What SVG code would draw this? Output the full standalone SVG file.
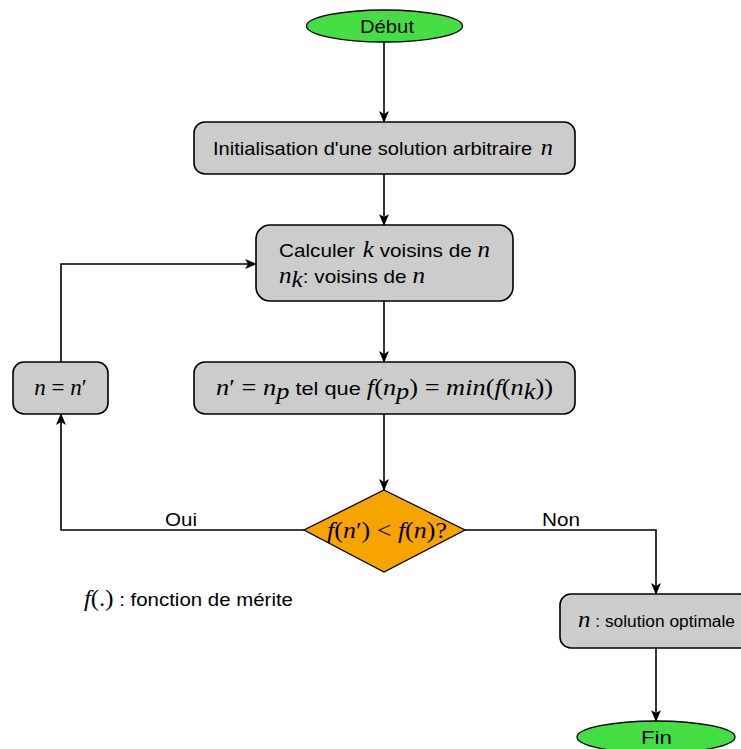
<svg xmlns="http://www.w3.org/2000/svg" width="741" height="749" viewBox="0 0 741 749">
<style>
.box{fill:#cccccc;stroke:#000;stroke-width:1.6}
.term{fill:#44dd44;stroke:#000;stroke-width:1.3}
.dec{fill:#f7a400;stroke:#000;stroke-width:1.3}
.t{font-family:"Liberation Sans",Arial,sans-serif;font-size:19px;fill:#000}
.m{font-family:"Liberation Serif","Times New Roman",serif;font-style:italic;font-size:23px;fill:#000}
.mr{font-family:"Liberation Serif","Times New Roman",serif;font-style:normal;font-size:23px;fill:#000}
.edge{fill:none;stroke:#000;stroke-width:1.6}
</style>
<defs>
<marker id="arr" viewBox="0 0 12 10" refX="11" refY="5" markerWidth="12" markerHeight="10" markerUnits="userSpaceOnUse" orient="auto">
<path d="M0,0 L12,5 L0,10 L3,5 Z" fill="#000"/>
</marker>
</defs>
<g id="connectors">
<path class="edge" d="M384,42 L384,122" marker-end="url(#arr)"/>
<path class="edge" d="M384,174 L384,225" marker-end="url(#arr)"/>
<path class="edge" d="M384,301 L384,362" marker-end="url(#arr)"/>
<path class="edge" d="M384,414 L384,490" marker-end="url(#arr)"/>
<path class="edge" d="M304,530 L61,530 L61,414" marker-end="url(#arr)"/>
<path class="edge" d="M61,362 L61,264 L256,264" marker-end="url(#arr)"/>
<path class="edge" d="M465,530 L656,530 L656,594" marker-end="url(#arr)"/>
<path class="edge" d="M656,648 L656,721" marker-end="url(#arr)"/>
<text class="t" x="165" y="526" textLength="32" lengthAdjust="spacingAndGlyphs">Oui</text>
<text class="t" x="542" y="526" textLength="38" lengthAdjust="spacingAndGlyphs">Non</text>
</g>
<g id="debut">
<ellipse class="term" cx="384.5" cy="26" rx="78" ry="16"/>
<text class="t" x="360" y="33" textLength="54" lengthAdjust="spacingAndGlyphs">Début</text>
</g>
<g id="init">
<rect class="box" x="194" y="122" width="381" height="52" rx="11"/>
<text class="t" x="213" y="155" textLength="340" lengthAdjust="spacingAndGlyphs">Initialisation d'une solution arbitraire <tspan class="m" dx="3">n</tspan></text>
</g>
<g id="calculer">
<rect class="box" x="256" y="225" width="257" height="76" rx="14"/>
<text class="t" x="279" y="257" textLength="211" lengthAdjust="spacingAndGlyphs">Calculer <tspan class="m" dx="2">k</tspan> voisins de <tspan class="m">n</tspan></text>
<text class="t" x="279" y="283" textLength="146" lengthAdjust="spacingAndGlyphs"><tspan class="m">n</tspan><tspan class="m" font-size="15" dy="4">k</tspan><tspan dy="-4">: voisins de </tspan><tspan class="m">n</tspan></text>
</g>
<g id="choix">
<rect class="box" x="194" y="362" width="381" height="52" rx="11"/>
<text class="t" x="216" y="395" textLength="337" lengthAdjust="spacingAndGlyphs"><tspan class="m">n</tspan><tspan class="mr">′ = </tspan><tspan class="m">n</tspan><tspan class="m" font-size="15" dy="4">p</tspan><tspan dy="-4"> tel que </tspan><tspan class="m">f</tspan><tspan class="mr">(</tspan><tspan class="m">n</tspan><tspan class="m" font-size="15" dy="4">p</tspan><tspan class="mr" dy="-4">) = </tspan><tspan class="m">min</tspan><tspan class="mr">(</tspan><tspan class="m">f</tspan><tspan class="mr">(</tspan><tspan class="m">n</tspan><tspan class="m" font-size="15" dy="4">k</tspan><tspan class="mr" dy="-4">))</tspan></text>
</g>
<g id="maj">
<rect class="box" x="13" y="362" width="95" height="52" rx="11"/>
<text x="60.5" y="395" text-anchor="middle"><tspan class="m" font-size="22">n</tspan><tspan class="mr" font-size="22"> = </tspan><tspan class="m" font-size="22">n</tspan><tspan class="mr" font-size="22">′</tspan></text>
</g>
<g id="test">
<polygon class="dec" points="384,490 465,530 384,572 304,530"/>
<text x="327" y="538" textLength="120" lengthAdjust="spacingAndGlyphs"><tspan class="m">f</tspan><tspan class="mr">(</tspan><tspan class="m">n</tspan><tspan class="mr">′) &lt; </tspan><tspan class="m">f</tspan><tspan class="mr">(</tspan><tspan class="m">n</tspan><tspan class="mr">)?</tspan></text>
</g>
<g id="legende">
<text class="t" x="84" y="606" textLength="209" lengthAdjust="spacingAndGlyphs"><tspan class="m" font-size="20">f</tspan><tspan class="mr" font-size="20">(.)</tspan> : fonction de mérite</text>
</g>
<g id="solution">
<rect class="box" x="560" y="594" width="190" height="54" rx="11"/>
<text class="t" x="578" y="627" textLength="157" lengthAdjust="spacingAndGlyphs"><tspan class="m">n</tspan><tspan font-size="16"> : solution optimale</tspan></text>
</g>
<g id="fin">
<ellipse class="term" cx="656" cy="737" rx="79" ry="16"/>
<text class="t" x="641" y="744" textLength="31" lengthAdjust="spacingAndGlyphs">Fin</text>
</g>
</svg>
